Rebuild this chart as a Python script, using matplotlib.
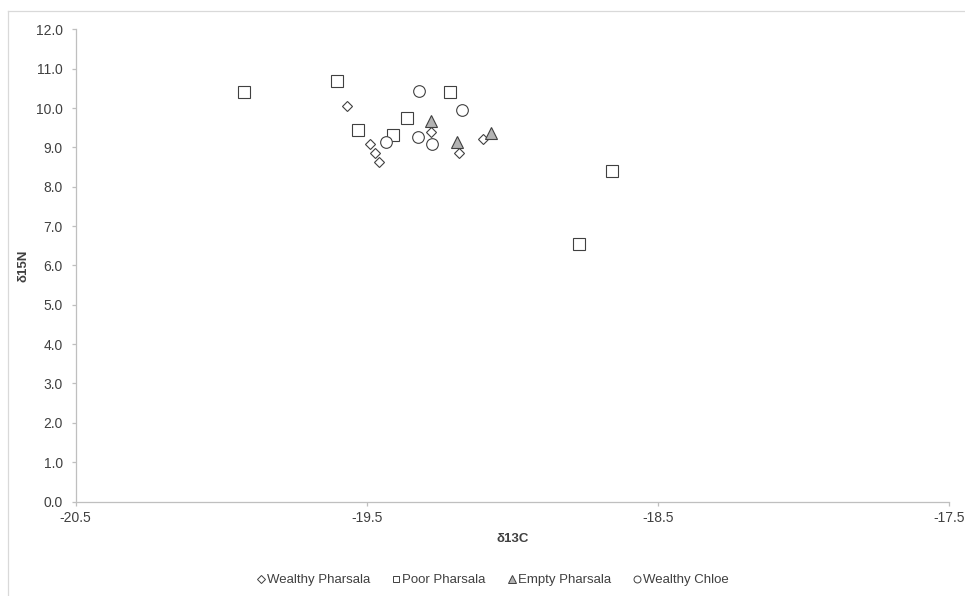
"""Scatter of d13C vs d15N for the Pharsala / Chloe groups."""
import matplotlib
matplotlib.use("Agg")
import matplotlib.pyplot as plt
from matplotlib.lines import Line2D

plt.rcParams["font.family"] = ["Liberation Sans", "DejaVu Sans"]

# --- data ------------------------------------------------------------------
wealthy_pharsala_c = [-19.569, -19.489, -19.472, -19.459, -19.280, -19.182, -19.102]
wealthy_pharsala_n = [10.05, 9.09, 8.86, 8.64, 9.40, 8.85, 9.22]

poor_pharsala_c = [-19.921, -19.603, -19.530, -19.411, -19.361, -19.214, -18.659, -18.770]
poor_pharsala_n = [10.40, 10.69, 9.44, 9.31, 9.75, 10.41, 8.41, 6.54]

empty_pharsala_c = [-19.280, -19.189, -19.072]
empty_pharsala_n = [9.67, 9.14, 9.36]

wealthy_chloe_c = [-19.434, -19.319, -19.325, -19.277, -19.172]
wealthy_chloe_n = [9.13, 10.43, 9.26, 9.08, 9.95]

series_names = ["Wealthy Pharsala", "Poor Pharsala", "Empty Pharsala", "Wealthy Chloe"]

x_ticks = [-20.5, -19.5, -18.5, -17.5]
y_ticks = [0, 1, 2, 3, 4, 5, 6, 7, 8, 9, 10, 11, 12]

# --- styling ----------------------------------------------------------------
EDGE = "#404040"
AXIS = "#bfbfbf"
TEXT = "#404040"
styles = [
    dict(marker="D", ms=5.4, mfc="white"),
    dict(marker="s", ms=8.6, mfc="white"),
    dict(marker="^", ms=8.4, mfc="#b3b3b3"),
    dict(marker="o", ms=8.4, mfc="white"),
]
legend_ms = [3.6, 5.0, 5.4, 5.0]

fig = plt.figure(figsize=(9.65, 5.96), dpi=100)
ax = fig.add_axes([75.5 / 965, 1 - 501.5 / 596, 873.5 / 965, 472.2 / 596])

data = [
    (wealthy_pharsala_c, wealthy_pharsala_n),
    (poor_pharsala_c, poor_pharsala_n),
    (empty_pharsala_c, empty_pharsala_n),
    (wealthy_chloe_c, wealthy_chloe_n),
]
for (xs, ys), st in zip(data, styles):
    ax.plot(xs, ys, linestyle="none", marker=st["marker"], markersize=st["ms"],
            markerfacecolor=st["mfc"], markeredgecolor=EDGE, markeredgewidth=0.8,
            clip_on=False)

ax.set_xlim(-20.5, -17.5)
ax.set_ylim(0, 12)
ax.set_xticks(x_ticks)
ax.set_yticks(y_ticks)
ax.set_xticklabels([f"{v:.1f}" for v in x_ticks])
ax.set_yticklabels([f"{v:.1f}" for v in y_ticks])

for side in ("top", "right"):
    ax.spines[side].set_visible(False)
for side in ("left", "bottom"):
    ax.spines[side].set_color(AXIS)
    ax.spines[side].set_linewidth(0.9)
ax.tick_params(axis="both", colors=AXIS, labelcolor=TEXT, labelsize=10,
               length=3, width=0.9, direction="out")
ax.tick_params(axis="y", pad=6)
ax.tick_params(axis="x", pad=4)

ax.set_xlabel("δ13C", fontsize=9.5, fontweight="bold", color=TEXT)
ax.set_ylabel("δ15N", fontsize=9.5, fontweight="bold", color=TEXT)
ax.xaxis.set_label_coords(0.5, -0.066)
ax.yaxis.set_label_coords(-0.053, 0.5)

handles = [
    Line2D([], [], linestyle="none", marker=st["marker"], markersize=lm,
           markerfacecolor=st["mfc"], markeredgecolor=EDGE, markeredgewidth=0.7)
    for st, lm in zip(styles, legend_ms)
]
leg = fig.legend(handles, series_names, loc="center", ncol=4,
                 bbox_to_anchor=(493 / 965, 1 - 580 / 596), frameon=False,
                 fontsize=9.5, handlelength=0.6, handletextpad=0.15,
                 columnspacing=1.7, borderpad=0)
for t in leg.get_texts():
    t.set_color(TEXT)

# chart-area frame (only the left and top edges fall inside the picture)
fig.add_artist(Line2D([7.5 / 965, 7.5 / 965], [0, 1 - 11 / 596],
                      transform=fig.transFigure, color="#d9d9d9", lw=0.9))
fig.add_artist(Line2D([7.5 / 965, 1], [1 - 11 / 596, 1 - 11 / 596],
                      transform=fig.transFigure, color="#d9d9d9", lw=0.9))

fig.savefig("out.png", dpi=100)
